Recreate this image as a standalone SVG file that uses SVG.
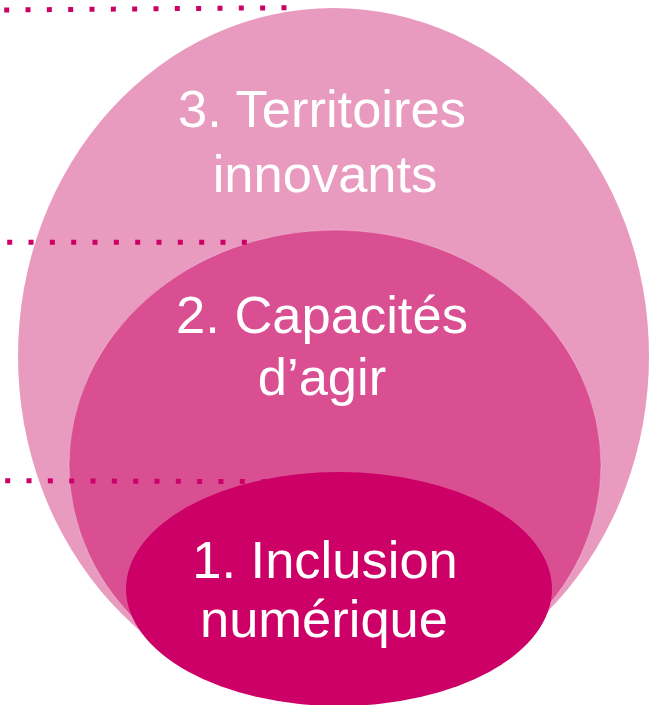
<svg xmlns="http://www.w3.org/2000/svg" width="656" height="705" viewBox="0 0 656 705">
<style>
.lbl{font-family:"Liberation Sans",Arial,sans-serif;font-size:52.5px;fill:#ffffff;text-anchor:middle}
.dots{stroke:#CC0066;stroke-width:5;stroke-dasharray:5 16.33;fill:none}
</style>
<rect width="656" height="705" fill="#ffffff"/>
<g id="node-3">
<ellipse cx="333.5" cy="356" rx="315.5" ry="348" fill="#E89ABF"/>
<text class="lbl" x="322" y="127">3. Territoires</text>
<text class="lbl" x="325" y="192">innovants</text>
</g>
<g id="node-2">
<ellipse cx="335" cy="465" rx="266" ry="235" fill="#D94F92" stroke="#ffffff" stroke-opacity="0.3" stroke-width="1"/>
<text class="lbl" x="322" y="333">2. Capacités</text>
<text class="lbl" x="322" y="395">d’agir</text>
</g>
<g id="node-1">
<ellipse cx="339" cy="589" rx="213" ry="117" fill="#CC0066"/>
<text class="lbl" x="325" y="578">1. Inclusion</text>
<text class="lbl" x="324" y="637">numérique</text>
</g>
<g id="connectors">
<line class="dots" x1="4.2" y1="10" x2="287" y2="7.7"/>
<line class="dots" x1="7.2" y1="242.3" x2="247" y2="242.3"/>
<line class="dots" x1="5.2" y1="480.7" x2="267" y2="481.7"/>
</g>
</svg>
